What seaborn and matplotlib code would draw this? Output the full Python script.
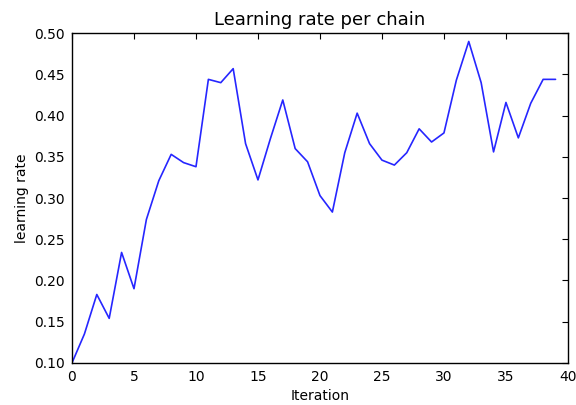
import numpy as np
import pandas as pd
import seaborn as sns
import matplotlib
matplotlib.use('Agg')
import matplotlib.pyplot as plt

iteracion = list(range(40))
tasa = [0.100, 0.135, 0.183, 0.154, 0.234, 0.190, 0.274, 0.321, 0.353, 0.343,
        0.338, 0.444, 0.440, 0.457, 0.366, 0.322, 0.372, 0.419, 0.360, 0.344,
        0.303, 0.283, 0.355, 0.403, 0.366, 0.346, 0.340, 0.355, 0.384, 0.368,
        0.379, 0.443, 0.490, 0.440, 0.356, 0.416, 0.373, 0.415, 0.444, 0.444]

df = pd.DataFrame({'Iteration': iteracion, 'lr': tasa})

sns.set_style('white', {
    'xtick.direction': 'in',
    'ytick.direction': 'in',
    'axes.edgecolor': 'black',
    'text.color': 'black',
    'axes.labelcolor': 'black',
    'xtick.color': 'black',
    'ytick.color': 'black',
})
plt.rcParams['font.family'] = ['DejaVu Sans']

fig = plt.figure(figsize=(5.76, 4.05), dpi=100)
ax = fig.add_axes([0.125, 0.104, 0.861, 0.814])

sns.lineplot(data=df, x='Iteration', y='lr', color='#0000ff', alpha=0.85,
             linewidth=1.2, ax=ax)

ax.set_xlim(0, 40)
ax.set_ylim(0.10, 0.50)
ax.set_xticks(np.arange(0, 41, 5))
ax.set_yticks(np.arange(0.10, 0.501, 0.05))
ax.set_yticklabels([f'{v:.2f}' for v in np.arange(0.10, 0.501, 0.05)])
ax.tick_params(axis='both', which='both', direction='in', top=True, right=True,
               length=4, width=0.8, labelsize=10, color='black', pad=5)
for s in ax.spines.values():
    s.set_linewidth(1.0)
    s.set_color('black')

ax.set_title('Learning rate per chain', fontsize=13)
ax.set_xlabel('Iteration', fontsize=10)
ax.set_ylabel('learning rate', fontsize=10)

fig.savefig('out.png', dpi=100, facecolor='white')
